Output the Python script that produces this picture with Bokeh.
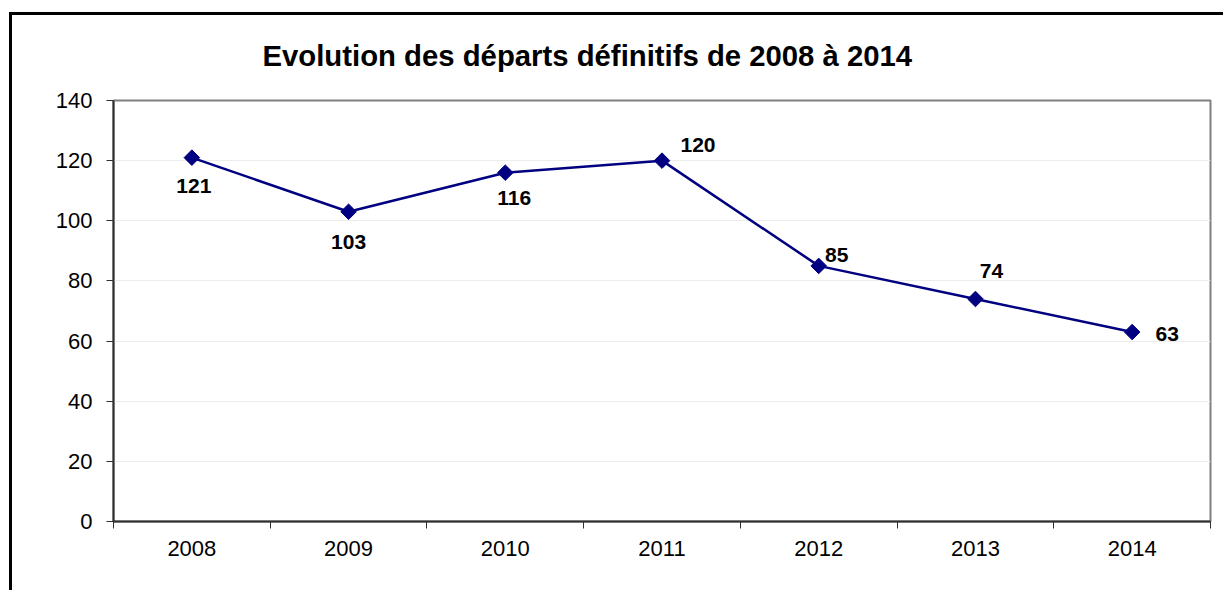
import math
from bokeh.plotting import figure
from bokeh.models import ColumnDataSource, FixedTicker, Range1d, Title
from bokeh.core.properties import value
from bokeh.embed import file_html
from bokeh.resources import INLINE

years = ["2008", "2009", "2010", "2011", "2012", "2013", "2014"]
departs = [121, 103, 116, 120, 85, 74, 63]
y_ticks = [0, 20, 40, 60, 80, 100, 120, 140]
title_text = "Evolution des départs définitifs de 2008 à 2014"

# label placement (screen px offsets), layout only
label_dx = [2, 0, 9, 36, 18, 16, 35]
label_dy = [28, 30, 25, -16, -11, -28, 2]

xs = [i + 0.5 for i in range(len(years))]
src = ColumnDataSource(dict(x=xs, y=departs, lbl=[str(v) for v in departs],
                            dx=label_dx, dy=label_dy))

FONT = "Liberation Sans"

p = figure(width=1214, height=578, output_backend="svg", toolbar_location=None,
           x_range=Range1d(0, len(years)), y_range=Range1d(0, 140),
           min_border_left=101, min_border_top=85, min_border_right=16,
           min_border_bottom=72)
p.styles = {"border-left": "3px solid black", "border-top": "3px solid black",
            "margin-left": "9px", "margin-top": "12px"}

p.title.text = title_text
p.title.text_font = FONT
p.title.text_font_size = "29.3px"
p.title.text_font_style = "bold"
p.title.align = "left"
p.title.offset = 149
p.title.standoff = 10
p.title.text_color = "black"

# spacer between title and frame
p.add_layout(Title(text=" ", text_font_size="20px", standoff=0), "above")

p.background_fill_color = "white"
p.border_fill_color = "white"
p.outline_line_color = "#808080"
p.outline_line_width = 2

# grid
p.xgrid.grid_line_color = None
p.ygrid.grid_line_color = "#ececec"
p.ygrid.grid_line_width = 1
p.ygrid.ticker = FixedTicker(ticks=y_ticks)

# y axis
p.yaxis.ticker = FixedTicker(ticks=y_ticks)
p.yaxis.axis_line_color = "#303030"
p.yaxis.axis_line_width = 2
p.yaxis.major_tick_line_color = "#303030"
p.yaxis.major_tick_line_width = 1
p.yaxis.major_tick_out = 7
p.yaxis.major_tick_in = 0
p.yaxis.minor_tick_line_color = None
p.yaxis.major_label_text_font = FONT
p.yaxis.major_label_text_font_size = "22px"
p.yaxis.major_label_text_color = "black"
p.yaxis.major_label_standoff = 14

# x axis: labels at centres, ticks at boundaries
p.xaxis.ticker = FixedTicker(ticks=xs, minor_ticks=list(range(len(years) + 1)))
p.xaxis.major_label_overrides = {x: y for x, y in zip(xs, years)}
p.xaxis.axis_line_color = "#303030"
p.xaxis.axis_line_width = 2
p.xaxis.major_tick_line_color = None
p.xaxis.major_tick_out = 0
p.xaxis.major_tick_in = 0
p.xaxis.minor_tick_line_color = "#303030"
p.xaxis.minor_tick_line_width = 1
p.xaxis.minor_tick_out = 7
p.xaxis.minor_tick_in = 0
p.xaxis.major_label_text_font = FONT
p.xaxis.major_label_text_font_size = "22px"
p.xaxis.major_label_text_color = "black"
p.xaxis.major_label_standoff = 12

p.line("x", "y", source=src, line_color="#000080", line_width=2.5)
p.scatter("x", "y", source=src, marker="square", angle=math.pi / 4, size=11,
          fill_color="#000080", line_color="#000080")
p.text("x", "y", text="lbl", source=src, x_offset="dx", y_offset="dy",
       text_font=value(FONT), text_font_size="21px", text_font_style="bold",
       text_color="black", text_align="center", text_baseline="middle")

open("out.html", "w").write(file_html(p, INLINE))
